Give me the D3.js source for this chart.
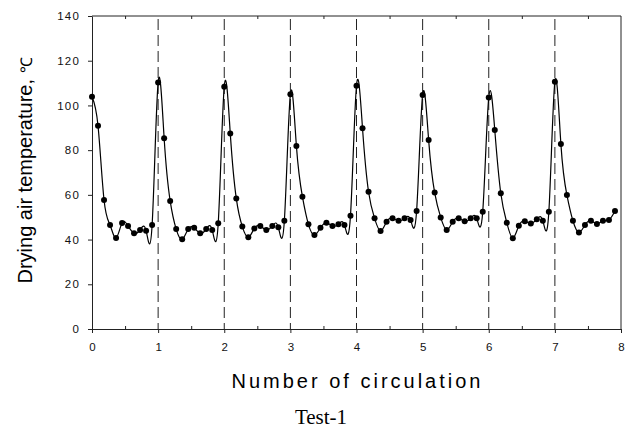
<!DOCTYPE html>
<html>
<head>
<meta charset="utf-8">
<script src="https://cdn.jsdelivr.net/npm/d3@7"></script>
<style>
  body { margin: 0; background: #fff; }
  svg { display: block; font-family: "Liberation Sans", Arial, sans-serif; }
</style>
</head>
<body>
<svg id="chart" width="636" height="428"></svg>
<script>
// circulation number of each sample (11 samples per circulation)
const circulation = [
  0, 0.091, 0.182, 0.273, 0.364, 0.455, 0.545, 0.636, 0.727, 0.818, 0.909,
  1, 1.091, 1.182, 1.273, 1.364, 1.455, 1.545, 1.636, 1.727, 1.818, 1.909,
  2, 2.091, 2.182, 2.273, 2.364, 2.455, 2.545, 2.636, 2.727, 2.818, 2.909,
  3, 3.091, 3.182, 3.273, 3.364, 3.455, 3.545, 3.636, 3.727, 3.818, 3.909,
  4, 4.091, 4.182, 4.273, 4.364, 4.455, 4.545, 4.636, 4.727, 4.818, 4.909,
  5, 5.091, 5.182, 5.273, 5.364, 5.455, 5.545, 5.636, 5.727, 5.818, 5.909,
  6, 6.091, 6.182, 6.273, 6.364, 6.455, 6.545, 6.636, 6.727, 6.818, 6.909,
  7, 7.091, 7.182, 7.273, 7.364, 7.455, 7.545, 7.636, 7.727, 7.818, 7.909
];

// drying air temperature, °C
const temperature = [
  103.9, 90.9, 57.7, 46.5, 40.7, 47.4, 46.1, 42.8, 44.3, 44.0, 46.5,
  110.2, 85.3, 57.3, 44.7, 40.1, 44.7, 45.3, 42.8, 44.7, 44.3, 47.3,
  108.4, 87.5, 58.4, 45.8, 41.0, 45.0, 46.1, 44.3, 46.1, 45.5, 48.4,
  105.0, 81.9, 59.2, 46.8, 42.0, 45.3, 47.5, 46.1, 46.8, 46.5, 50.7,
  108.8, 89.8, 61.4, 49.5, 43.8, 48.0, 49.5, 48.4, 49.5, 48.8, 52.8,
  104.7, 84.5, 61.0, 49.9, 44.3, 48.0, 49.5, 48.2, 49.5, 49.5, 52.5,
  103.5, 89.0, 60.7, 47.5, 40.6, 46.2, 48.2, 47.2, 49.1, 48.4, 52.5,
  110.6, 82.7, 59.9, 48.4, 43.2, 46.5, 48.4, 47.0, 48.4, 48.8, 52.8
];

const xTicks = [0, 1, 2, 3, 4, 5, 6, 7, 8];
const xMinorTicks = [0.5, 1.5, 2.5, 3.5, 4.5, 5.5, 6.5, 7.5];
const yTicks = [0, 20, 40, 60, 80, 100, 120, 140];
const cycleStarts = [1, 2, 3, 4, 5, 6, 7];

const svg = d3.select("#chart"),
  margin = { top: 16, right: 15, bottom: 99, left: 92 },
  width = +svg.attr("width") - margin.left - margin.right,
  height = +svg.attr("height") - margin.top - margin.bottom;

const AXIS_COLOR = "#222";

const g = svg.append("g")
  .attr("transform", `translate(${margin.left},${margin.top})`);

const x = d3.scaleLinear().domain([0, 8]).range([0, width]);
const y = d3.scaleLinear().domain([0, 140]).range([height, 0]);

// dashed lines at the start of each circulation
g.selectAll(".cycle-line")
  .data(cycleStarts)
  .enter()
  .append("line")
  .attr("class", "cycle-line")
  .attr("x1", d => x(d)).attr("x2", d => x(d))
  .attr("y1", 3).attr("y2", height)
  .attr("stroke", "#222")
  .attr("stroke-width", 1)
  .attr("stroke-dasharray", "11,5");

// frame: top and right
g.append("line")
  .attr("x1", 0).attr("x2", width).attr("y1", 0).attr("y2", 0)
  .attr("stroke", AXIS_COLOR);
g.append("line")
  .attr("x1", width).attr("x2", width).attr("y1", 0).attr("y2", height)
  .attr("stroke", AXIS_COLOR);

// top minor ticks (inside)
g.append("g")
  .call(d3.axisTop(x).tickValues(xMinorTicks).tickSize(-3).tickFormat(""))
  .call(a => a.select(".domain").remove())
  .call(a => a.selectAll(".tick line").attr("stroke", AXIS_COLOR));

// bottom minor ticks (inside)
g.append("g")
  .attr("transform", `translate(0,${height})`)
  .call(d3.axisBottom(x).tickValues(xMinorTicks).tickSize(-3).tickFormat(""))
  .call(a => a.select(".domain").remove())
  .call(a => a.selectAll(".tick line").attr("stroke", AXIS_COLOR));

// bottom axis
g.append("g")
  .attr("transform", `translate(0,${height})`)
  .call(d3.axisBottom(x).tickValues(xTicks).tickSize(4).tickSizeOuter(0).tickPadding(10))
  .call(a => a.select(".domain").attr("stroke", AXIS_COLOR))
  .call(a => a.selectAll(".tick line").attr("stroke", AXIS_COLOR))
  .call(a => a.selectAll(".tick text")
    .attr("font-size", "11.5px")
    .attr("font-family", "Liberation Sans, Arial, sans-serif")
    .attr("fill", "#111"));

// left axis
g.append("g")
  .call(d3.axisLeft(y).tickValues(yTicks).tickSize(4).tickSizeOuter(0).tickPadding(8))
  .call(a => a.select(".domain").attr("stroke", AXIS_COLOR))
  .call(a => a.selectAll(".tick line").attr("stroke", AXIS_COLOR))
  .call(a => a.selectAll(".tick text")
    .attr("font-size", "11.5px")
    .attr("letter-spacing", "1.2px")
    .attr("font-family", "Liberation Sans, Arial, sans-serif")
    .attr("fill", "#111"));

// data
const points = circulation.map((c, i) => ({ c: c, t: temperature[i] }));

const line = d3.line()
  .curve(d3.curveNatural)
  .x(d => x(d.c))
  .y(d => y(d.t));

g.append("path")
  .datum(points)
  .attr("d", line)
  .attr("fill", "none")
  .attr("stroke", "#000")
  .attr("stroke-width", 1.2);

g.selectAll(".dot")
  .data(points)
  .enter()
  .append("circle")
  .attr("class", "dot")
  .attr("cx", d => x(d.c))
  .attr("cy", d => y(d.t))
  .attr("r", 3)
  .attr("fill", "#000");

// axis titles
const yLabel = svg.append("text")
  .attr("transform", `translate(32, ${margin.top + height / 2 - 2}) rotate(-90)`)
  .attr("text-anchor", "middle")
  .attr("font-size", "20px")
  .attr("fill", "#000");
yLabel.append("tspan").text("Drying air temperature, ");
yLabel.append("tspan").attr("font-size", "16px").text("℃");

svg.append("text")
  .attr("x", margin.left + width / 2 + 1)
  .attr("y", 388)
  .attr("text-anchor", "middle")
  .attr("font-size", "20px")
  .attr("letter-spacing", "3px")
  .attr("fill", "#000")
  .text("Number of circulation");

svg.append("text")
  .attr("x", 321)
  .attr("y", 424)
  .attr("text-anchor", "middle")
  .attr("font-family", "Liberation Serif, Times New Roman, serif")
  .attr("font-size", "21px")
  .attr("fill", "#000")
  .text("Test-1");
</script>
</body>
</html>
